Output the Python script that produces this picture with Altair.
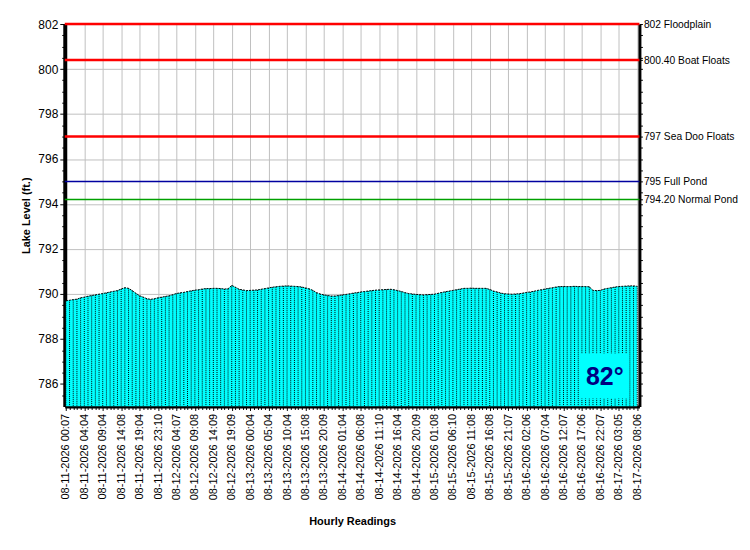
import json
import altair as alt
import pandas as pd

# Hourly lake level readings (ft.)
levels = [
    789.70, 789.72, 789.75, 789.77, 789.83, 789.86, 789.90, 789.93, 789.96, 789.99,
    790.02, 790.05, 790.09, 790.12, 790.15, 790.22, 790.28, 790.25, 790.15, 790.03,
    789.92, 789.86, 789.79, 789.76, 789.79, 789.83, 789.86, 789.89, 789.92, 789.97,
    790.02, 790.05, 790.07, 790.11, 790.14, 790.17, 790.19, 790.22, 790.24, 790.24,
    790.25, 790.25, 790.24, 790.22, 790.23, 790.38, 790.30, 790.21, 790.18, 790.15,
    790.16, 790.17, 790.18, 790.21, 790.24, 790.27, 790.30, 790.32, 790.34, 790.35,
    790.36, 790.35, 790.34, 790.33, 790.31, 790.27, 790.23, 790.16, 790.06, 790.00,
    789.96, 789.93, 789.91, 789.91, 789.93, 789.96, 789.98, 790.01, 790.04, 790.06,
    790.09, 790.11, 790.13, 790.15, 790.17, 790.18, 790.19, 790.20, 790.21, 790.19,
    790.15, 790.11, 790.06, 790.02, 790.00, 789.98, 789.97, 789.96, 789.97, 789.98,
    789.99, 790.03, 790.07, 790.10, 790.13, 790.16, 790.19, 790.22, 790.25, 790.25,
    790.26, 790.25, 790.25, 790.25, 790.25, 790.20, 790.13, 790.09, 790.04, 790.01,
    790.00, 789.99, 790.00, 790.01, 790.04, 790.07, 790.09, 790.12, 790.16, 790.19,
    790.22, 790.25, 790.28, 790.31, 790.33, 790.33, 790.33, 790.33, 790.34, 790.33,
    790.33, 790.33, 790.32, 790.16, 790.15, 790.16, 790.22, 790.25, 790.28, 790.31,
    790.33, 790.34, 790.35, 790.36, 790.36, 790.34,
]

# Labels shown on every 5th reading
tick_labels = [
    "08-11-2026 00:07", "08-11-2026 04:04", "08-11-2026 09:04", "08-11-2026 14:08",
    "08-11-2026 19:04", "08-11-2026 23:10", "08-12-2026 04:07", "08-12-2026 09:08",
    "08-12-2026 14:09", "08-12-2026 19:09", "08-13-2026 00:04", "08-13-2026 05:04",
    "08-13-2026 10:04", "08-13-2026 15:08", "08-13-2026 20:09", "08-14-2026 01:04",
    "08-14-2026 06:08", "08-14-2026 11:10", "08-14-2026 16:04", "08-14-2026 20:09",
    "08-15-2026 01:08", "08-15-2026 06:10", "08-15-2026 11:08", "08-15-2026 16:08",
    "08-15-2026 21:07", "08-16-2026 02:06", "08-16-2026 07:04", "08-16-2026 12:07",
    "08-16-2026 17:06", "08-16-2026 22:07", "08-17-2026 03:05", "08-17-2026 08:06",
]
label_every = 5

# Reference levels
ref_values = [802, 800.4, 797, 795, 794.2]
ref_names = ["802 Floodplain", "800.40 Boat Floats", "797 Sea Doo Floats",
             "795 Full Pond", "794.20 Normal Pond"]
ref_colors = ["#FF0000", "#FF0000", "#FF0000", "#0000A0", "#00A000"]
ref_widths = [2.5, 2.5, 2.5, 1.5, 1.5]

# Water temperature badge (annotation, in data units)
temp_text = ["82°"]
temp_box_x = [139.5, 152.8]
temp_box_y = [785.35, 787.35]
temp_text_pos = [146.2, 786.3]

y_domain = [785, 802]
x_domain = [-0.3, 155.6]
FONT = "Liberation Sans"

df = pd.DataFrame({"i": list(range(len(levels))), "level": levels, "base": [y_domain[0]] * len(levels)})
refs = pd.DataFrame({"value": ref_values, "name": ref_names, "color": ref_colors, "w": ref_widths})
badge = pd.DataFrame({"x": [temp_box_x[0]], "x2": [temp_box_x[1]],
                      "y": [temp_box_y[0]], "y2": [temp_box_y[1]],
                      "tx": [temp_text_pos[0]], "ty": [temp_text_pos[1]], "t": temp_text})

x_scale = alt.Scale(domain=x_domain, nice=False, zero=False)
y_scale = alt.Scale(domain=y_domain, nice=False, zero=False)

label_arr = json.dumps(tick_labels)
x_axis = alt.Axis(
    title="Hourly Readings",
    values=list(range(len(levels))),
    tickCount=1000,
    labelExpr=f"datum.value % {label_every} === 0 ? {label_arr}[datum.value / {label_every}] : ''",
    labelAngle=270, labelAlign="right", labelBaseline="middle",
    labelOverlap=False, labelBound=False, labelFlush=False,
    labelFontSize=11, labelColor="#000000", labelPadding=3,
    tickSize=alt.condition(f"datum.value % {label_every} === 0", alt.value(4), alt.value(3)),
    tickColor="#000000",
    grid=True,
    gridOpacity=alt.condition(f"datum.value % {label_every} === 0", alt.value(1), alt.value(0)),
    gridColor="#C0C0C0",
    domainColor="#000000", domainWidth=3,
    titleFontSize=11, titleFontWeight="bold", titlePadding=16, titleColor="#000000",
)

y_minor = [785 + 0.5 * k for k in range(1, 35)]
y_axis = alt.Axis(
    title="Lake Level (ft.)",
    values=y_minor,
    tickCount=1000,
    labelExpr="datum.value % 2 === 0 ? datum.value : ''",
    labelOverlap=False, labelBound=False, labelFlush=False,
    labelFontSize=12, labelColor="#000000", labelPadding=2,
    tickSize=alt.condition("datum.value % 2 === 0", alt.value(5), alt.value(3)),
    tickColor="#000000",
    grid=True,
    gridOpacity=alt.condition("datum.value % 2 === 0", alt.value(1), alt.value(0)),
    gridColor="#C0C0C0",
    domainColor="#000000", domainWidth=4,
    titleFontSize=11, titleFontWeight="bold", titlePadding=6, titleColor="#000000",
)

right_expr = "''"
for v, n in reversed(list(zip(ref_values, ref_names))):
    right_expr = f"abs(datum.value - {v}) < 0.01 ? '{n}' : ({right_expr})"
right_values = sorted(set(y_minor + ref_values))
right_axis = alt.Axis(
    title=None, orient="right",
    values=right_values,
    tickCount=1000,
    labelExpr=right_expr,
    labelOverlap=False, labelBound=False, labelFlush=False,
    labelFontSize=10.3, labelColor="#000000", labelPadding=1,
    tickSize=3, tickColor="#000000",
    grid=False,
    domainColor="#000000", domainWidth=3,
)

base = alt.Chart(df)

area = base.mark_area(color="#00FFFF", opacity=1, clip=True).encode(
    x=alt.X("i:Q", scale=x_scale, axis=x_axis),
    y=alt.Y("level:Q", scale=y_scale, axis=y_axis),
    y2="base:Q",
)

dots = base.mark_rule(color="#000000", strokeWidth=1, strokeDash=[1, 1], clip=True).encode(
    x=alt.X("i:Q", scale=x_scale),
    y=alt.Y("level:Q", scale=y_scale),
    y2="base:Q",
)

edge = base.mark_line(color="#000000", strokeWidth=1, strokeDash=[2, 1], clip=True).encode(
    x=alt.X("i:Q", scale=x_scale),
    y=alt.Y("level:Q", scale=y_scale),
)

box = alt.Chart(badge).mark_rect(color="#00FFFF", opacity=1).encode(
    x=alt.X("x:Q", scale=x_scale), x2="x2:Q",
    y=alt.Y("y:Q", scale=y_scale), y2="y2:Q",
)
text = alt.Chart(badge).mark_text(
    font=FONT, fontSize=25, fontWeight="bold", color="#000080", align="center", baseline="middle"
).encode(
    x=alt.X("tx:Q", scale=x_scale),
    y=alt.Y("ty:Q", scale=y_scale),
    text="t:N",
)

ref_rules = alt.Chart(refs).mark_rule().encode(
    y=alt.Y("value:Q", scale=y_scale, axis=right_axis),
    color=alt.Color("color:N", scale=None),
    strokeWidth=alt.StrokeWidth("w:Q", scale=None),
)

left_layer = alt.layer(area, dots, edge, box, text)

chart = alt.layer(left_layer, ref_rules).resolve_axis(y="independent").properties(
    width=577, height=384,
    autosize=alt.AutoSizeParams(type="none"),
    padding={"left": 57, "top": 15, "right": 103, "bottom": 135},
    background="#FFFFFF",
).configure(font=FONT).configure_view(stroke="#000000", strokeWidth=1)

chart.save("out.html", embed_options={"renderer": "svg", "actions": False})
